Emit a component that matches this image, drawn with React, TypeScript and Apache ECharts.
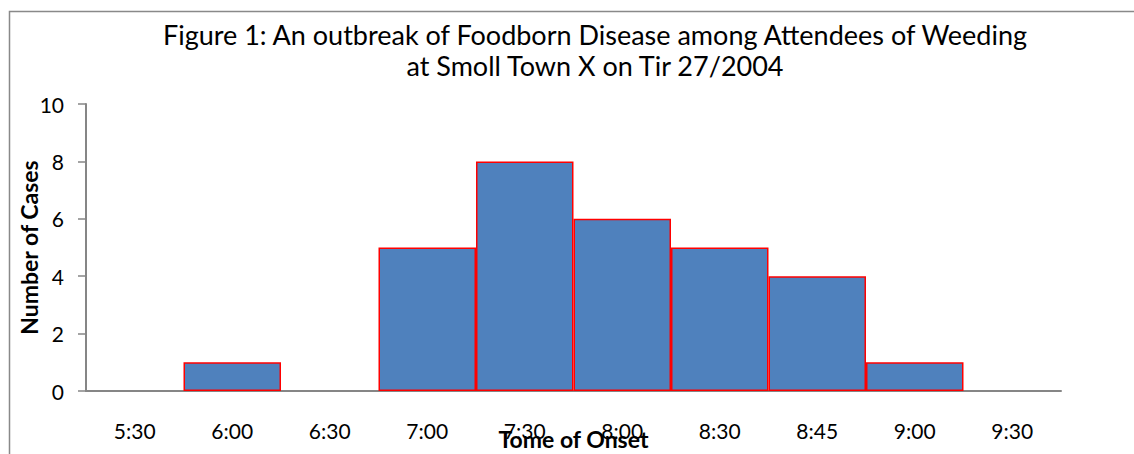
import React, { useEffect, useRef } from "react";
import * as echarts from "echarts";

const categories = ["5:30", "6:00", "6:30", "7:00", "7:30", "8:00", "8:30", "8:45", "9:00", "9:30"];
const cases = [0, 1, 0, 5, 8, 6, 5, 4, 1, 0];
const titleLines = [
  "Figure 1: An outbreak of Foodborn Disease among Attendees of Weeding",
  "at Smoll Town X on Tir 27/2004",
];
const yAxisName = "Number of Cases";
const xAxisName = "Tome of Onset";

const FONT = "Lato, 'Liberation Sans', sans-serif";

export default function App() {
  const ref = useRef<HTMLDivElement>(null);
  useEffect(() => {
    if (!ref.current) return;
    const chart = echarts.init(ref.current, undefined, { renderer: "svg" });
    chart.setOption({
      animation: false,
      backgroundColor: "#ffffff",
      textStyle: { fontFamily: FONT },
      graphic: [
        {
          type: "rect",
          shape: { x: 9.5, y: 11.5, width: 1300, height: 600 },
          style: { fill: "none", stroke: "#898989", lineWidth: 1.5 },
          silent: true,
        },
      ],
      title: {
        text: titleLines.join("\n"),
        left: 590,
        top: 14,
        textAlign: "center",
        textStyle: {
          fontFamily: FONT,
          fontSize: 27,
          fontWeight: "normal",
          color: "#000000",
          lineHeight: 31,
        },
      },
      grid: { left: 86, right: 73, top: 104, bottom: 63, containLabel: false, outerBoundsMode: "none" },
      xAxis: {
        type: "category",
        data: categories,
        name: xAxisName,
        nameLocation: "middle",
        nameGap: 36,
        nameMoveOverlap: false,
        nameTextStyle: { fontFamily: FONT, fontSize: 23, fontWeight: "bold", color: "#000" },
        axisLine: { lineStyle: { color: "#868686", width: 2 } },
        axisTick: { show: false },
        axisLabel: { fontFamily: FONT, fontSize: 21, color: "#000", margin: 29 },
      },
      yAxis: {
        type: "value",
        min: 0,
        max: 10,
        interval: 2,
        name: yAxisName,
        nameLocation: "middle",
        nameGap: 46,
        nameMoveOverlap: false,
        nameTextStyle: { fontFamily: FONT, fontSize: 23, fontWeight: "bold", color: "#000" },
        axisLine: { show: true, lineStyle: { color: "#868686", width: 2 } },
        axisTick: { show: true, length: 8, lineStyle: { color: "#868686", width: 1.5 } },
        splitLine: { show: false },
        axisLabel: { fontFamily: FONT, fontSize: 21, color: "#000", margin: 22 },
      },
      series: [
        {
          type: "bar",
          data: cases.map((v) => (v === 0 ? { value: v, itemStyle: { borderWidth: 0 } } : v)),
          barCategoryGap: "0%",
          z: 1,
          itemStyle: { color: "#4F81BD", borderColor: "#FF0000", borderWidth: 1.5 },
        },
      ],
    });
    return () => chart.dispose();
  }, []);
  return (
    <div
      ref={ref}
      style={{ position: "absolute", left: 0, top: 0, width: 1134, height: 454 }}
    />
  );
}
